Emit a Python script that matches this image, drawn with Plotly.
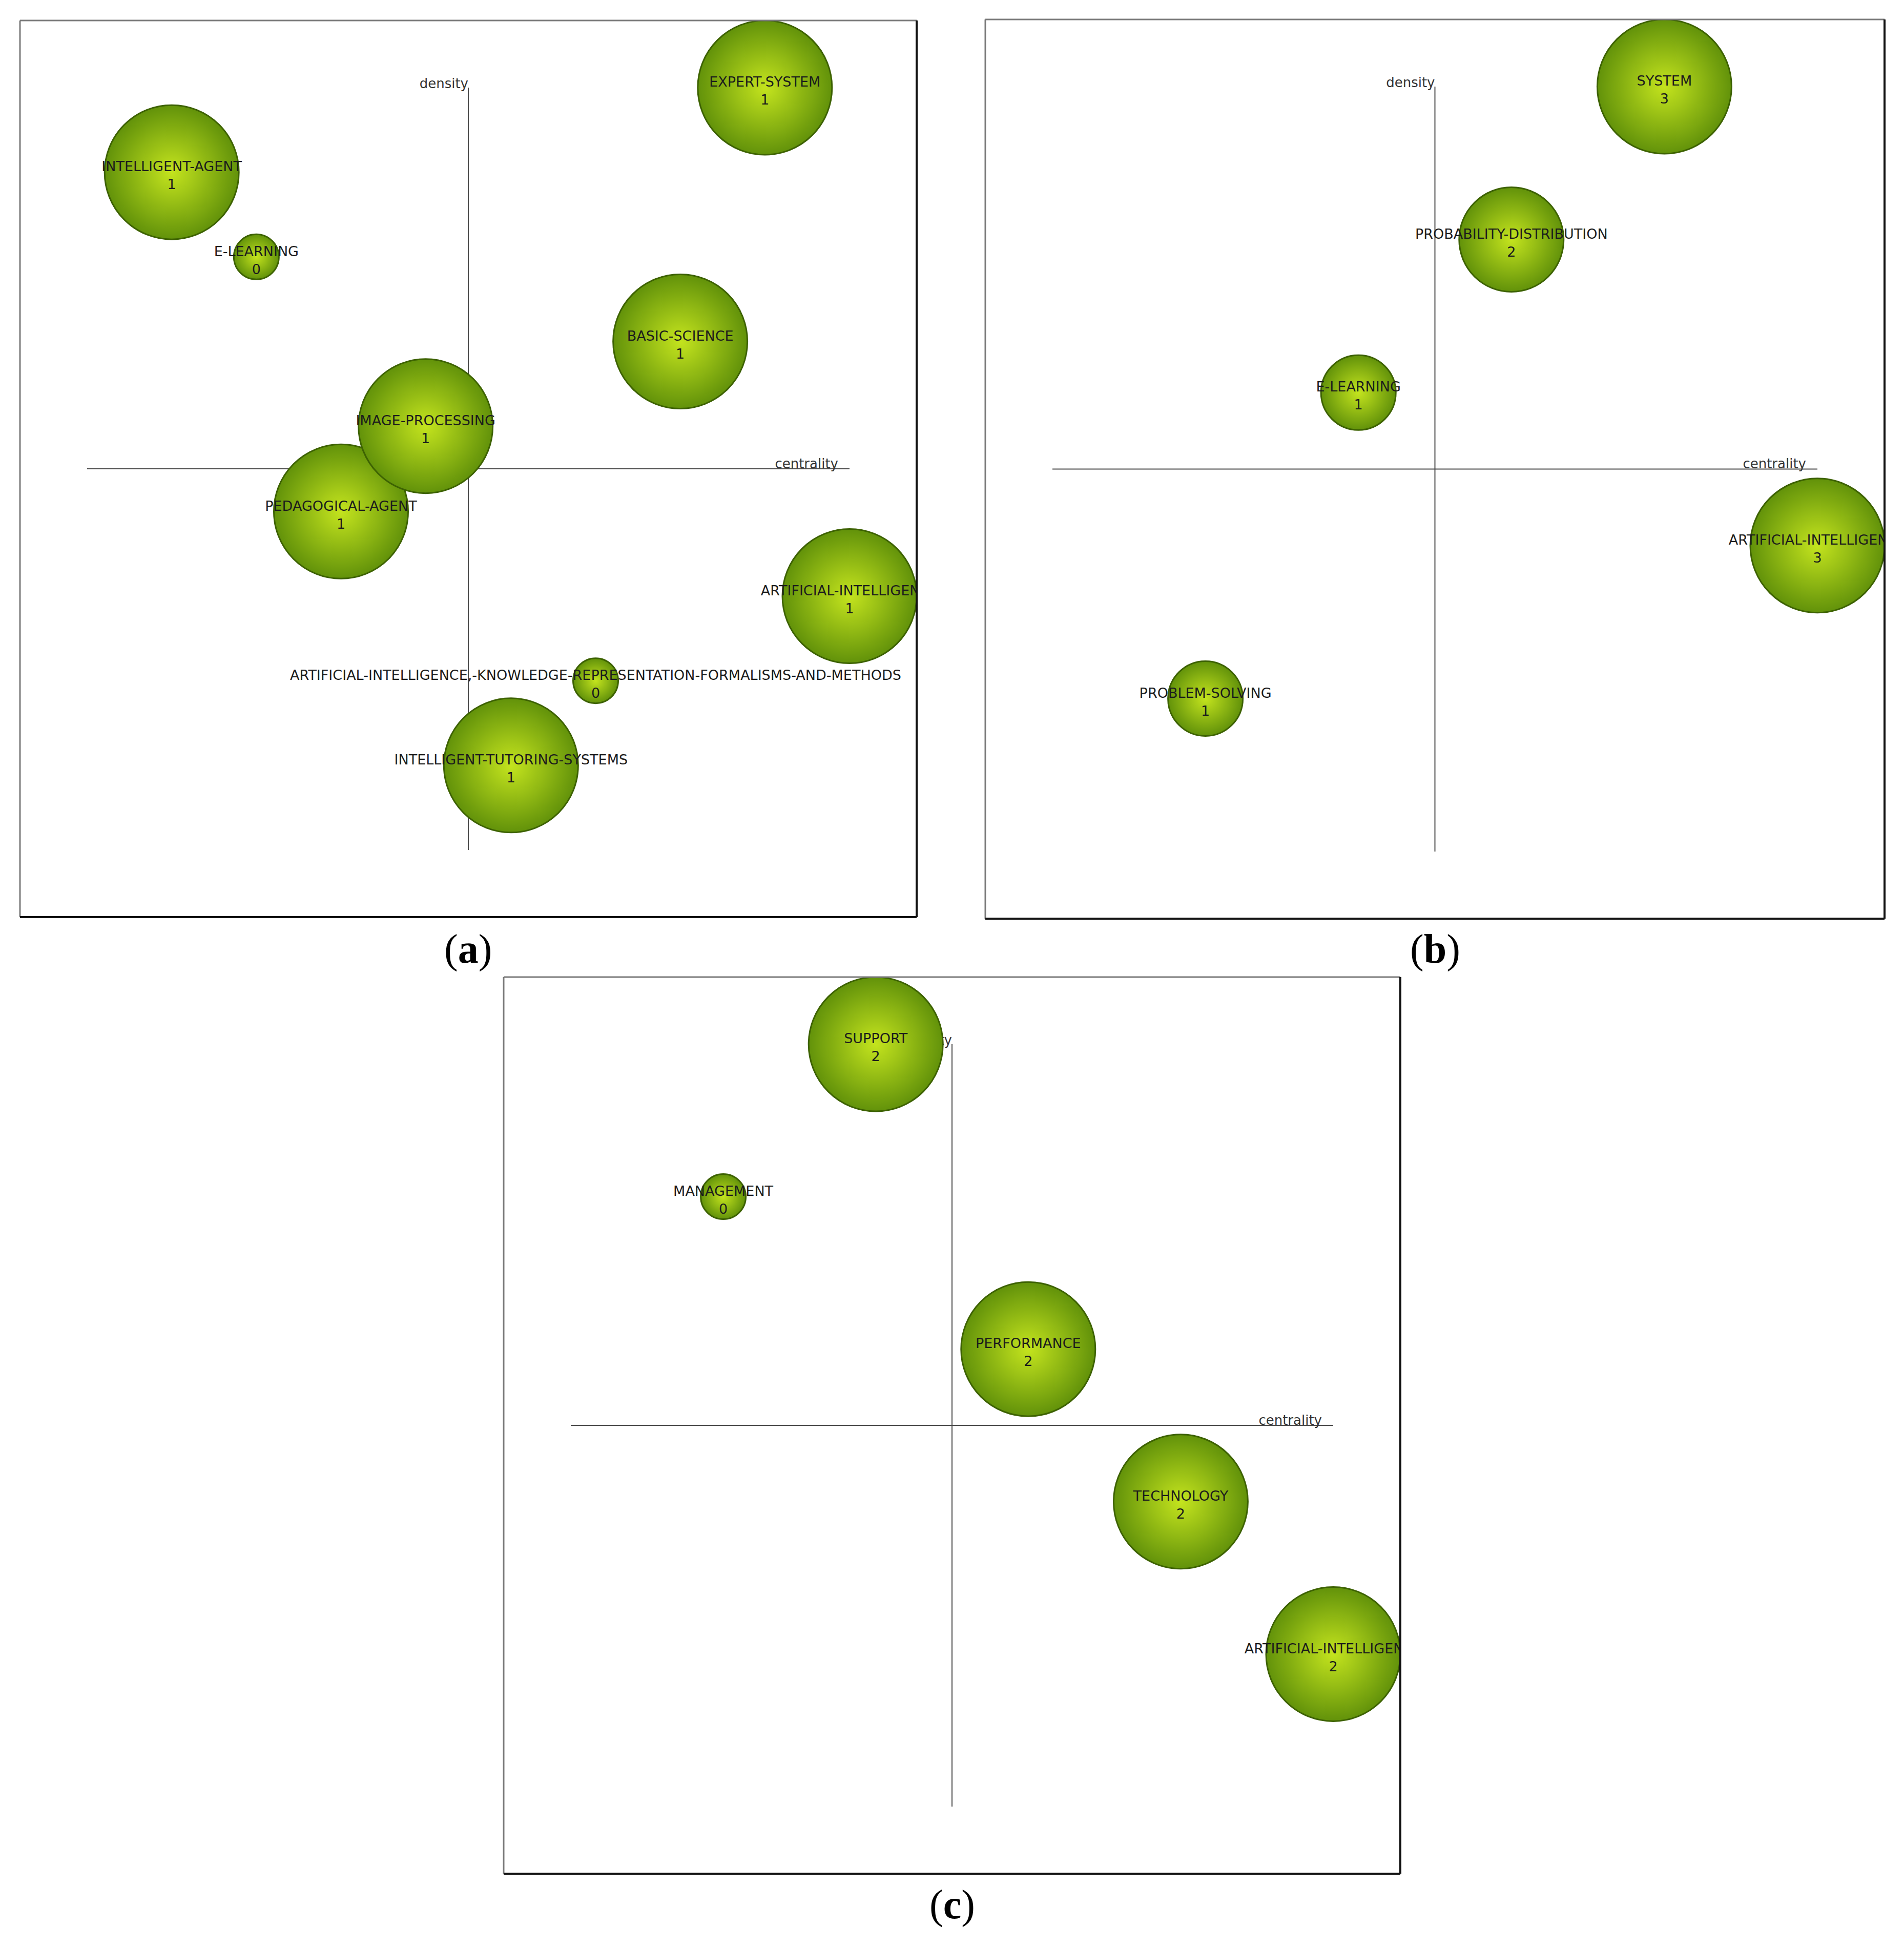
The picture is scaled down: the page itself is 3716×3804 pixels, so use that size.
"""
Strategic diagrams (centrality vs density) for three periods, drawn as
three boxed bubble panels (a), (b), (c) with Plotly.
"""

import plotly.graph_objects as go

PAGE_W, PAGE_H = 3716, 3804
BODY = 8                       # default <body> margin of the html page
W, H = PAGE_W - 2 * BODY, PAGE_H - 2 * BODY

# ── panel (a) ─────────────────────────────────────────────────────────
A_THEMES = [
    "EXPERT-SYSTEM", "INTELLIGENT-AGENT", "E-LEARNING", "BASIC-SCIENCE",
    "PEDAGOGICAL-AGENT", "IMAGE-PROCESSING", "ARTIFICIAL-INTELLIGENCE",
    "ARTIFICIAL-INTELLIGENCE,-KNOWLEDGE-REPRESENTATION-FORMALISMS-AND-METHODS",
    "INTELLIGENT-TUTORING-SYSTEMS",
]
A_CENTRALITY = [0.889, 0.111, 0.222, 0.778, 0.333, 0.444, 1.000, 0.667, 0.556]
A_DENSITY    = [1.000, 0.889, 0.778, 0.667, 0.444, 0.556, 0.333, 0.222, 0.111]
A_VALUE      = [1, 1, 0, 1, 1, 1, 1, 0, 1]

# ── panel (b) ─────────────────────────────────────────────────────────
B_THEMES = ["SYSTEM", "PROBABILITY-DISTRIBUTION", "E-LEARNING",
            "ARTIFICIAL-INTELLIGENCE", "PROBLEM-SOLVING"]
B_CENTRALITY = [0.8, 0.6, 0.4, 1.0, 0.2]
B_DENSITY    = [1.0, 0.8, 0.6, 0.4, 0.2]
B_VALUE      = [3, 2, 1, 3, 1]

# ── panel (c) ─────────────────────────────────────────────────────────
C_THEMES = ["SUPPORT", "MANAGEMENT", "PERFORMANCE", "TECHNOLOGY",
            "ARTIFICIAL-INTELLIGENCE"]
C_CENTRALITY = [0.4, 0.2, 0.6, 0.8, 1.0]
C_DENSITY    = [1.0, 0.8, 0.6, 0.4, 0.2]
C_VALUE      = [2, 0, 2, 2, 2]

PANEL_LABELS = ["a", "b", "c"]

# panel boxes in page pixels: left, top, side
BOXES = [(39, 40, 1750), (1923, 38, 1755), (983, 1907, 1750)]
# label centres in page pixels
LABEL_POS = [(913, 1853), (2801, 1853), (1858, 3717)]

D_MIN, D_MAX = 88, 262          # bubble diameters (px)
EDGE_GREEN = "#62920a"
CORE_GREEN = "#c4e41e"
LABEL_FONT = dict(family="DejaVu Sans", size=27, color="#1c1c1c")
TEXT_DROP = 9                   # bubble labels sit a little below centre (px)

panels = [
    (A_THEMES, A_CENTRALITY, A_DENSITY, A_VALUE),
    (B_THEMES, B_CENTRALITY, B_DENSITY, B_VALUE),
    (C_THEMES, C_CENTRALITY, C_DENSITY, C_VALUE),
]


def px_x(p):
    return (p - BODY) / W


def px_y(p):
    return 1 - (p - BODY) / H


fig = go.Figure()
layout = dict(
    width=W, height=H,
    margin=dict(l=0, r=0, t=0, b=0),
    paper_bgcolor="white", plot_bgcolor="white",
    showlegend=False,
    shapes=[], annotations=[],
)

for i, ((themes, cen, den, val), (left, top, side)) in enumerate(zip(panels, BOXES)):
    n = "" if i == 0 else str(i + 1)
    xa, ya = "x" + n, "y" + n
    pad = (D_MAX / 2) / (side - D_MAX)
    rng = [-pad, 1 + pad]
    unit = (1 + 2 * pad) / side          # data units per pixel
    axis_common = dict(range=rng, visible=False, fixedrange=True)
    layout["xaxis" + n] = dict(axis_common, domain=[px_x(left), px_x(left + side)])
    layout["yaxis" + n] = dict(axis_common, domain=[px_y(top + side), px_y(top)])

    # quadrant axes
    for x0, y0, x1, y1 in [(0, 0.5, 1, 0.5), (0.5, 0, 0.5, 1)]:
        layout["shapes"].append(dict(
            type="line", xref=xa, yref=ya, x0=x0, y0=y0, x1=x1, y1=y1,
            line=dict(color="#4a4a4a", width=2), layer="below"))

    # frame: light top/left, heavy right/bottom
    dx, dy = xa + " domain", ya + " domain"
    for x0, y0, x1, y1, c, w in [
        (0, 1, 1, 1, "#7a7a7a", 3), (0, 0, 0, 1, "#7a7a7a", 3),
        (1, 0, 1, 1, "#111111", 4), (0, 0, 1, 0, "#111111", 4),
    ]:
        layout["shapes"].append(dict(
            type="line", xref=dx, yref=dy, x0=x0, y0=y0, x1=x1, y1=y1,
            line=dict(color=c, width=w), layer="above"))

    # axis names (a trace so bubbles can cover them)
    fig.add_trace(go.Scatter(
        x=[0.5, 1 - 22 * unit], y=[1 - 7 * unit, 0.5 - 5 * unit], mode="text",
        text=["density", "centrality"],
        textposition=["top left", "top left"],
        textfont=dict(family="DejaVu Sans", size=26, color="#333333"),
        xaxis=xa, yaxis=ya, hoverinfo="skip",
    ))

    vmax = max(val) or 1
    sizes = [D_MIN + (D_MAX - D_MIN) * v / vmax for v in val]
    labels = [f"{t}<br>{v}" for t, v in zip(themes, val)]
    fig.add_trace(go.Scatter(
        x=cen, y=den, mode="markers",
        marker=dict(
            size=sizes, sizemode="diameter", color=EDGE_GREEN, opacity=1,
            gradient=dict(type="radial", color=CORE_GREEN),
            line=dict(color="#3d6202", width=3),
        ),
        cliponaxis=True,
        xaxis=xa, yaxis=ya,
        text=labels,
        hovertemplate="%{text}<extra></extra>",
    ))
    fig.add_trace(go.Scatter(
        x=cen, y=[d - TEXT_DROP * unit for d in den], mode="text",
        text=labels, textposition="middle center", textfont=LABEL_FONT,
        cliponaxis=True, xaxis=xa, yaxis=ya, hoverinfo="skip",
    ))

    cx, cy = LABEL_POS[i]
    layout["annotations"].append(dict(
        text=f"(<b>{PANEL_LABELS[i]}</b>)", xref="paper", yref="paper",
        x=px_x(cx), y=px_y(cy), xanchor="center", yanchor="middle",
        showarrow=False,
        font=dict(family="Liberation Serif", size=80, color="black"),
    ))

fig.update_layout(**layout)
fig.write_html("out.html")
